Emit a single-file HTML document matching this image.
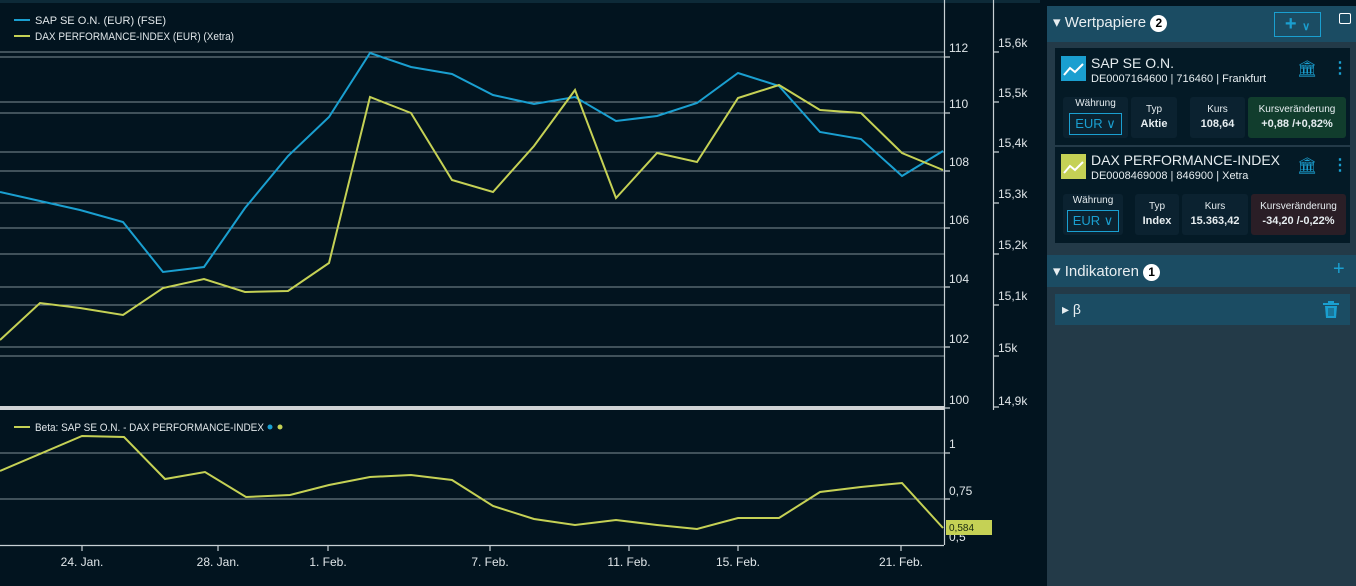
<!DOCTYPE html>
<html><head><meta charset="utf-8"><style>
body{margin:0;width:1356px;height:586px;background:#02141f;font-family:"Liberation Sans",sans-serif;overflow:hidden;position:relative;color:#e6edf0}
.a{position:absolute}
.hdr{background:#1b4c63;color:#e8eef1}
.card{background:#041a26;}
.cell{position:absolute;background:#0b2230;border-radius:3px;text-align:center;font-size:10px;line-height:14px}
.cell b{font-size:11px}
.badge{display:inline-block;width:17px;height:17px;border-radius:50%;background:#fff;color:#000;font-size:12px;font-weight:bold;text-align:center;line-height:17px;vertical-align:middle}
</style></head><body>
<div class="a" style="left:0;top:0;width:1040px;height:3px;background:#0d2a38"></div>
<svg class="a" style="left:0;top:0" width="1040" height="586" font-family="Liberation Sans, sans-serif">
<g stroke="#7f8e96" stroke-width="1">
<line x1="0" y1="57" x2="944" y2="57"/><line x1="0" y1="113" x2="944" y2="113"/><line x1="0" y1="171" x2="944" y2="171"/><line x1="0" y1="228" x2="944" y2="228"/><line x1="0" y1="287" x2="944" y2="287"/><line x1="0" y1="347" x2="944" y2="347"/>
<line x1="0" y1="52" x2="944" y2="52"/><line x1="0" y1="102" x2="944" y2="102"/><line x1="0" y1="152" x2="944" y2="152"/><line x1="0" y1="203" x2="944" y2="203"/><line x1="0" y1="254" x2="944" y2="254"/><line x1="0" y1="305" x2="944" y2="305"/><line x1="0" y1="356" x2="944" y2="356"/>
<line x1="0" y1="453" x2="944" y2="453"/><line x1="0" y1="499" x2="944" y2="499"/>
</g>
<rect x="0" y="406" width="944" height="4" fill="#d0d3d5"/>
<g stroke="#c8d0d4" stroke-width="1.2">
<line x1="944.5" y1="0" x2="944.5" y2="545"/><line x1="993.5" y1="0" x2="993.5" y2="410"/>
<line x1="0" y1="545.5" x2="944" y2="545.5"/>
<path d="M944 57h6M944 113h6M944 171h6M944 228h6M944 287h6M944 347h6M944 408h6M993 52h6M993 102h6M993 152h6M993 203h6M993 254h6M993 305h6M993 356h6M993 407h6M944 453h6M944 499h6M82 545v6M218 545v6M328 545v6M490 545v6M629 545v6M738 545v6M901 545v6"/>
</g>
<g fill="#e0e6e9" font-size="12">
<text x="949" y="52">112</text><text x="949" y="108">110</text><text x="949" y="166">108</text><text x="949" y="224">106</text><text x="949" y="283">104</text><text x="949" y="343">102</text><text x="949" y="404">100</text>
<text x="998" y="47">15,6k</text><text x="998" y="97">15,5k</text><text x="998" y="147">15,4k</text><text x="998" y="198">15,3k</text><text x="998" y="249">15,2k</text><text x="998" y="300">15,1k</text><text x="998" y="352">15k</text><text x="998" y="405">14,9k</text>
<text x="949" y="448">1</text><text x="949" y="495">0,75</text><text x="949" y="541">0,5</text>
<g text-anchor="middle"><text x="82" y="566">24. Jan.</text><text x="218" y="566">28. Jan.</text><text x="328" y="566">1. Feb.</text><text x="490" y="566">7. Feb.</text><text x="629" y="566">11. Feb.</text><text x="738" y="566">15. Feb.</text><text x="901" y="566">21. Feb.</text></g>
</g>
<polyline fill="none" stroke="#1a9fd0" stroke-width="2" points="0,192 40,201 80,210 123,222 163,272 204,267 245,208 288,156 329,117 370,53 411,67 452,74 493,95 534,104 575,97 616,121 657,116 697,103 738,73 779,86 820,132 861,139 902,176 943,151"/>
<polyline fill="none" stroke="#c5d155" stroke-width="2" points="0,340 40,303 80,308 123,315 163,288 204,279 245,292 288,291 329,263 370,97 411,113 452,180 493,192 534,146 575,90 616,198 657,153 697,162 738,98 779,85 820,110 861,113 902,153 943,170"/>
<polyline fill="none" stroke="#c5d155" stroke-width="2" points="0,471 82,436 124,437 165,479 205,472 246,497 290,495 329,485 370,477 411,475 452,480 493,506 534,519 575,525 616,520 657,525 697,529 738,518 779,518 820,492 861,487 902,483 943,528"/>
<rect x="946" y="520" width="46" height="15" fill="#c5d155"/>
<text x="949" y="531" font-size="10" fill="#1a2a10">0,584</text>
<line x1="14" y1="20" x2="30" y2="20" stroke="#1a9fd0" stroke-width="2"/>
<line x1="14" y1="36" x2="30" y2="36" stroke="#c5d155" stroke-width="2"/>
<text x="35" y="24" font-size="11" fill="#e0e6e9" textLength="131" lengthAdjust="spacingAndGlyphs">SAP SE O.N. (EUR) (FSE)</text>
<text x="35" y="40" font-size="11" fill="#e0e6e9" textLength="199" lengthAdjust="spacingAndGlyphs">DAX PERFORMANCE-INDEX (EUR) (Xetra)</text>
<line x1="14" y1="427" x2="30" y2="427" stroke="#c5d155" stroke-width="2"/>
<text x="35" y="431" font-size="11" fill="#e0e6e9" textLength="229" lengthAdjust="spacingAndGlyphs">Beta: SAP SE O.N. - DAX PERFORMANCE-INDEX</text>
<circle cx="270" cy="427" r="2.5" fill="#1a9fd0"/><circle cx="280" cy="427" r="2.5" fill="#c5d155"/>
</svg>

<div class="a" style="left:1047px;top:6px;width:309px;height:580px;background:#233a48"></div>
<div class="a hdr" style="left:1047px;top:6px;width:309px;height:36px"></div>
<div class="a" style="left:1053px;top:13px;font-size:15px;color:#e8eef1">&#9662; Wertpapiere <span class="badge">2</span></div>
<div class="a" style="left:1274px;top:12px;width:45px;height:23px;border:1px solid #1a9fd0;color:#1a9fd0;font-size:20px;line-height:22px;text-align:center;font-weight:bold">+ <span style="font-size:11px">&#8744;</span></div>
<div class="a" style="left:1339px;top:13px;width:10px;height:9px;border:1px solid #fff;border-radius:2px"></div>

<div class="a card" style="left:1055px;top:48px;width:295px;height:97px"></div>
<div class="a" style="left:1061px;top:56px;width:25px;height:25px;background:#1a9fd0"><svg width="25" height="25"><polyline points="3,19 9,12 14,16 22,8" fill="none" stroke="#fff" stroke-width="2"/></svg></div>
<div class="a" style="left:1091px;top:55px;font-size:14px">SAP SE O.N.</div>
<div class="a" style="left:1091px;top:73px;font-size:11px">DE0007164600 | 716460 | Frankfurt</div>
<div class="a" style="left:1297px;top:59px;color:#1a9fd0;font-size:16px">&#127963;</div>
<div class="a" style="left:1332px;top:58px;color:#1a9fd0;font-size:16px;font-weight:bold">&#8942;</div>
<div class="cell" style="left:1063px;top:97px;width:65px;height:41px">Währung<div style="margin:2px 6px;border:1px solid #1a9fd0;color:#1a9fd0;font-size:13px;line-height:20px">EUR &#8744;</div></div>
<div class="cell" style="left:1131px;top:97px;width:46px;height:41px;padding-top:6px;box-sizing:border-box">Typ<br><b>Aktie</b></div>
<div class="cell" style="left:1190px;top:97px;width:55px;height:41px;padding-top:6px;box-sizing:border-box">Kurs<br><b>108,64</b></div>
<div class="cell" style="left:1248px;top:97px;width:98px;height:41px;padding-top:6px;box-sizing:border-box;background:#113d2d">Kursveränderung<br><b>+0,88 /+0,82%</b></div>

<div class="a card" style="left:1055px;top:147px;width:295px;height:96px"></div>
<div class="a" style="left:1061px;top:154px;width:25px;height:25px;background:#c5d155"><svg width="25" height="25"><polyline points="3,19 9,12 14,16 22,8" fill="none" stroke="#fff" stroke-width="2"/></svg></div>
<div class="a" style="left:1091px;top:152px;font-size:14px">DAX PERFORMANCE-INDEX</div>
<div class="a" style="left:1091px;top:170px;font-size:11px">DE0008469008 | 846900 | Xetra</div>
<div class="a" style="left:1297px;top:156px;color:#1a9fd0;font-size:16px">&#127963;</div>
<div class="a" style="left:1332px;top:155px;color:#1a9fd0;font-size:16px;font-weight:bold">&#8942;</div>
<div class="cell" style="left:1063px;top:194px;width:60px;height:41px">Währung<div style="margin:2px 4px;border:1px solid #1a9fd0;color:#1a9fd0;font-size:13px;line-height:20px">EUR &#8744;</div></div>
<div class="cell" style="left:1135px;top:194px;width:44px;height:41px;padding-top:6px;box-sizing:border-box">Typ<br><b>Index</b></div>
<div class="cell" style="left:1182px;top:194px;width:66px;height:41px;padding-top:6px;box-sizing:border-box">Kurs<br><b>15.363,42</b></div>
<div class="cell" style="left:1251px;top:194px;width:95px;height:41px;padding-top:6px;box-sizing:border-box;background:#2a1e26">Kursveränderung<br><b>-34,20 /-0,22%</b></div>

<div class="a hdr" style="left:1047px;top:255px;width:309px;height:32px"></div>
<div class="a" style="left:1053px;top:262px;font-size:15px;color:#e8eef1">&#9662; Indikatoren <span class="badge">1</span></div>
<div class="a" style="left:1333px;top:258px;color:#1a9fd0;font-size:20px">+</div>
<div class="a" style="left:1055px;top:294px;width:295px;height:31px;background:#1b4c63"></div>
<div class="a" style="left:1062px;top:301px;font-size:14px">&#9656; β</div>
<svg class="a" style="left:1323px;top:301px" width="16" height="18"><rect x="0" y="2" width="16" height="2" fill="#1a9fd0"/><rect x="5" y="0" width="6" height="2" fill="#1a9fd0"/><path d="M2 5h12l-1 12H3z" fill="#1a9fd0"/><path d="M6 7v8M8 7v8M10 7v8" stroke="#1b4c63" stroke-width="1"/></svg>
</body></html>
